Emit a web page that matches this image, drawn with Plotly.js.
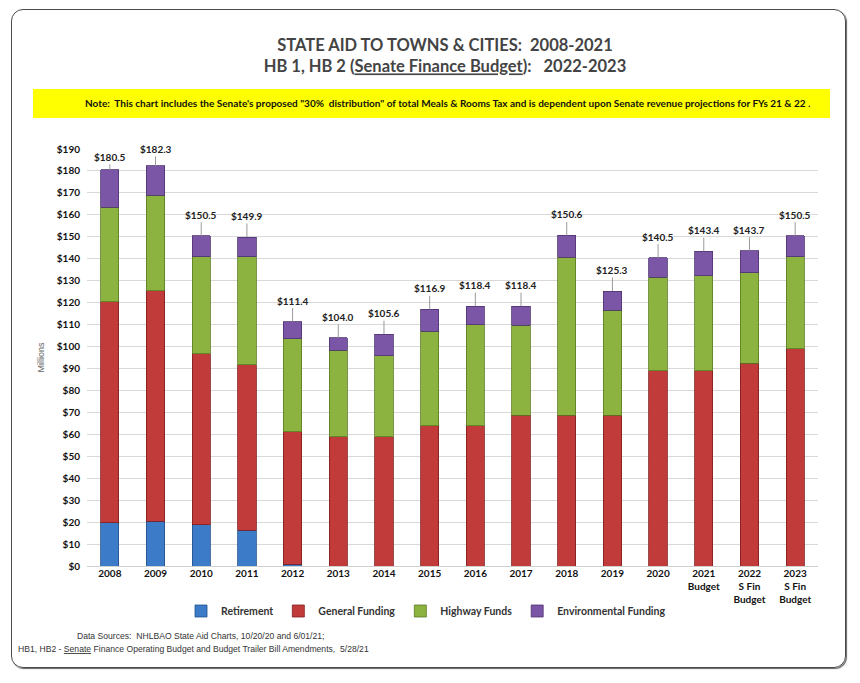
<!DOCTYPE html>
<html>
<head>
<meta charset="utf-8">
<script src="https://cdn.plot.ly/plotly-3.0.1.min.js"></script>
<style>
  html, body { margin: 0; padding: 0; background: #ffffff; }
  #wrap { position: relative; width: 860px; height: 683px; }
  #frame { position: absolute; left: 11px; top: 9px; width: 833px; height: 657px;
           border: 1.5px solid #4a4a4a; border-radius: 12px; box-shadow: 1px 1px 1px #666; }
  #chart { position: absolute; left: 0; top: 0; width: 860px; height: 683px; }
</style>
</head>
<body>
<div id="wrap">
  <div id="frame"></div>
  <div id="chart"></div>
</div>
<script>
// ---- data ----
const categories = ["2008","2009","2010","2011","2012","2013","2014","2015","2016","2017","2018","2019","2020",
  "2021<br>Budget","2022<br>S Fin<br>Budget","2023<br>S Fin<br>Budget"];
const retirement    = [19.8, 20.5, 18.7, 16.4, 0.9, 0, 0, 0, 0, 0, 0, 0, 0, 0, 0, 0];
const generalFunding= [100.7,105.0,78.1, 75.2, 60.3,59.0,59.0,63.8,63.8,68.7,68.7,68.7,88.9,88.9,92.4,98.9];
const highwayFunds  = [43.0, 43.5, 44.1, 49.4, 42.3,39.2,36.7,43.2,46.2,40.9,71.9,47.9,42.7,43.3,41.2,42.1];
const totals        = [180.5,182.3,150.5,149.9,111.4,104.0,105.6,116.9,118.4,118.4,150.6,125.3,140.5,143.4,143.7,150.5];
// environmental funding = published total minus the other three components
const environmental = totals.map((t, i) => +(t - retirement[i] - generalFunding[i] - highwayFunds[i]).toFixed(1));
const seriesNames = ["Retirement", "General Funding", "Highway Funds", "Environmental Funding"];
const yTickValues = [0,10,20,30,40,50,60,70,80,90,100,110,120,130,140,150,160,170,180,190];

// ---- style ----
const colors = ["#3b7bc8", "#c23b3b", "#8cb340", "#7c56a6"];
const edge   = ["#24518a", "#7e1e1e", "#5a7a22", "#4f3270"];
const labelLift = [13, 17, 21, 21, 21, 21, 21, 21, 21, 21, 21, 21, 21, 21, 21, 21];
const FONT = "Lato, 'Open Sans', sans-serif";

const seriesVals = [retirement, generalFunding, highwayFunds, environmental];
const traces = seriesVals.map((vals, k) => ({
  type: "bar",
  name: seriesNames[k],
  x: categories,
  y: vals,
  marker: { color: colors[k], line: { color: edge[k], width: 0.8 } },
  hoverinfo: "x+y+name"
}));

const L = 87, R = 42, T = 149, B = 117;
const W = 860 - L - R, H = 683 - T - B;
const px2x = p => (p - L) / W;
const px2y = p => (683 - B - p) / H;

// total labels: x given as category index (numeric-looking category strings would be read as indices)
const annotations = totals.map((t, i) => ({
  x: i, y: t, xref: "x", yref: "y",
  text: "$" + t.toFixed(1),
  showarrow: true, arrowhead: 0, arrowwidth: 1, arrowcolor: "#9a9a9a",
  ax: 0, ay: -labelLift[i], standoff: 0,
  font: { family: FONT, size: 10, color: "#222", weight: "bold" }
}));

annotations.push({
  xref: "paper", yref: "paper", x: px2x(447), y: px2y(103), xanchor: "center", yanchor: "middle",
  showarrow: false,
  text: "Note:  This chart includes the Senate's proposed \"30%  distribution\" of total Meals & Rooms Tax and is dependent upon Senate revenue projections for FYs 21 & 22 .",
  font: { family: FONT, size: 10, color: "#111", weight: "bold" }
});
annotations.push({
  xref: "paper", yref: "paper", x: px2x(75), y: px2y(636), xanchor: "left", yanchor: "middle",
  showarrow: false,
  text: "Data Sources:  NHLBAO State Aid Charts, 10/20/20 and 6/01/21;",
  font: { family: "'Liberation Sans', Arial, sans-serif", size: 8.6, color: "#333" }
});
annotations.push({
  xref: "paper", yref: "paper", x: px2x(16), y: px2y(649), xanchor: "left", yanchor: "middle",
  showarrow: false,
  text: "HB1, HB2 - <u>Senate</u> Finance Operating Budget and Budget Trailer Bill Amendments,  5/28/21",
  font: { family: "'Liberation Sans', Arial, sans-serif", size: 8.6, color: "#333" }
});

const layout = {
  width: 860, height: 683,
  margin: { l: L, r: R, t: T, b: B, pad: 0 },
  paper_bgcolor: "rgba(0,0,0,0)",
  plot_bgcolor: "rgba(0,0,0,0)",
  barmode: "stack",
  bargap: 0.6,
  title: {
    text: "STATE AID TO TOWNS & CITIES:  2008-2021<br>HB 1, HB 2 (<u>Senate Finance Budget</u>):   2022-2023",
    font: { family: FONT, size: 16.5, color: "#444", weight: "bold" },
    x: 445 / 860, xanchor: "center", y: 1 - 51 / 683, yanchor: "middle", yref: "container"
  },
  xaxis: {
    type: "category",
    range: [-0.5, categories.length - 0.5],
    autorange: false,
    tickfont: { family: FONT, size: 10, color: "#111", weight: "bold" },
    ticks: "", showline: false, showgrid: false, zeroline: false,
    automargin: false
  },
  yaxis: {
    range: [0, 190],
    autorange: false,
    tickvals: yTickValues,
    ticktext: yTickValues.map(v => "$" + v),
    tickfont: { family: FONT, size: 10, color: "#111", weight: "bold" },
    gridcolor: "#d9d9d9", gridwidth: 1,
    zeroline: true, zerolinecolor: "#cfcfcf",
    ticks: "", ticklabelstandoff: 6,
    title: { text: "Millions", font: { family: "'Liberation Sans', Arial, sans-serif", size: 9, color: "#666" }, standoff: 10 },
    automargin: false
  },
  legend: {
    orientation: "h", x: px2x(426), xanchor: "center", y: px2y(611), yanchor: "middle",
    font: { family: FONT, size: 10.5, color: "#333", weight: "bold" },
    itemwidth: 30, traceorder: "normal", bgcolor: "rgba(0,0,0,0)"
  },
  shapes: [{
    type: "rect", xref: "paper", yref: "paper", layer: "below",
    x0: px2x(33), x1: px2x(830), y0: px2y(118), y1: px2y(89),
    fillcolor: "#ffff00", line: { width: 0 }
  }],
  annotations: annotations,
  showlegend: true
};

Plotly.newPlot("chart", traces, layout, { displayModeBar: false, staticPlot: true });
</script>
</body>
</html>
